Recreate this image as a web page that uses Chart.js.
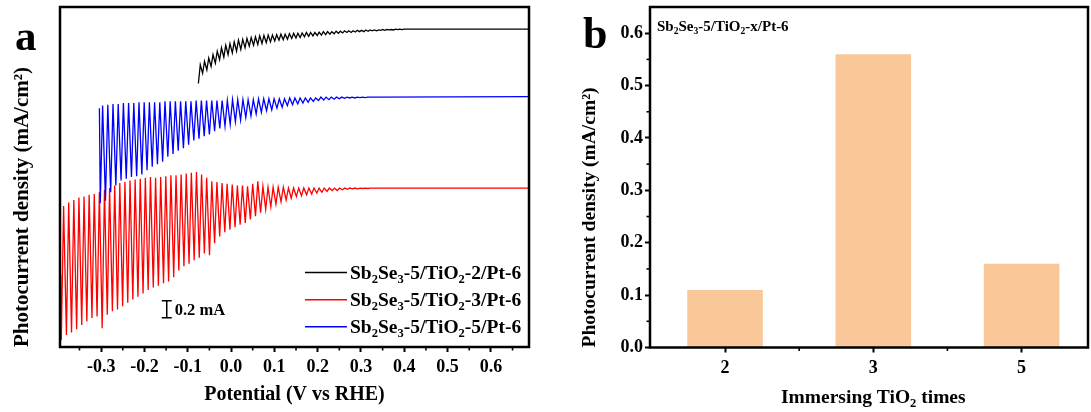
<!DOCTYPE html>
<html><head><meta charset="utf-8">
<script src="https://cdn.jsdelivr.net/npm/chart.js@4.4.1/dist/chart.umd.min.js"></script>
<style>
html,body{margin:0;padding:0;background:#fff;overflow:hidden;width:1091px;height:412px;}
#wa{position:absolute;left:0;top:0;width:545px;height:412px;}
#wb{position:absolute;left:560px;top:0;width:560px;height:412px;}
</style></head><body>
<div id="wa"><canvas id="ca"></canvas></div>
<div id="wb"><canvas id="cb"></canvas></div>
<script>
// ---------- Panel a data (chopped-light LSV, arbitrary vertical units; 0.2 unit = 0.2 mA scale bar) ----------
const seriesNames = ['Sb_2Se_3-5/TiO_2-2/Pt-6', 'Sb_2Se_3-5/TiO_2-3/Pt-6', 'Sb_2Se_3-5/TiO_2-5/Pt-6'];
const seriesColors = ['#000000', '#ff0000', '#0000ff'];
const potentialTicks = [-0.3, -0.2, -0.1, 0.0, 0.1, 0.2, 0.3, 0.4, 0.5, 0.6];
const potentialMinor = [-0.35, -0.25, -0.15, -0.05, 0.05, 0.15, 0.25, 0.35, 0.45, 0.55, 0.65];
const potentialRange = [-0.395, 0.688];

// black: TiO2-2
const blackStart = -0.0755, blackStep = 0.0098;
const blackLight = [3.32,3.36,3.40,3.44,3.48,3.52,3.55,3.57,3.59,3.61,3.62,3.63,3.64,3.65,3.66,3.665,3.67,3.67,3.675,3.68,3.68,3.685,3.69,3.69,3.695,3.70,3.70,3.70,3.705,3.71,3.71,3.71,3.715,3.715,3.72,3.72,3.72,3.725,3.725,3.73,3.73,3.73,3.73,3.735,3.735,3.735,3.74,3.74,3.74,3.74];
const blackDark  = [3.10,3.22,3.26,3.30,3.34,3.38,3.41,3.44,3.46,3.48,3.50,3.52,3.54,3.55,3.56,3.57,3.58,3.59,3.60,3.61,3.615,3.62,3.63,3.635,3.64,3.65,3.655,3.66,3.665,3.67,3.675,3.68,3.685,3.69,3.695,3.70,3.70,3.705,3.71,3.71,3.715,3.72,3.72,3.725,3.725,3.73,3.73,3.735,3.735,3.74];
const blackEnd = 3.74;

// red: TiO2-3
const redStart = -0.392, redStep = 0.0118;
const redLead = [-0.3935, 0.85];
const redLight = [1.66,1.70,1.73,1.76,1.77,1.79,1.80,1.82,1.85,1.87,1.90,1.93,1.94,1.96,1.97,1.98,1.99,2.00,1.99,2.00,2.01,2.02,2.02,2.03,2.04,2.05,2.06,2.03,1.99,1.95,1.94,1.93,1.92,1.91,1.90,1.90,1.89,1.92,1.95,1.89,1.88,1.88,1.88,1.88,1.87,1.87,1.87,1.87,1.87,1.87,1.87,1.87,1.87,1.87,1.87,1.87,1.87,1.87,1.87,1.87,1.87,1.87];
const redDark  = [0.08,0.14,0.17,0.21,0.26,0.30,0.34,0.36,0.22,0.38,0.42,0.44,0.48,0.52,0.56,0.59,0.63,0.67,0.70,0.72,0.75,0.77,0.82,0.90,0.95,0.98,1.02,1.05,1.10,1.08,1.22,1.30,1.35,1.38,1.41,1.44,1.46,1.50,1.54,1.58,1.62,1.65,1.68,1.71,1.73,1.75,1.77,1.78,1.79,1.80,1.81,1.82,1.83,1.84,1.84,1.85,1.855,1.86,1.86,1.865,1.865,1.87];
const redEnd = 1.87;

// blue: TiO2-5
const blueStart = -0.302, blueStep = 0.012;
const blueLead = [-0.304, 2.81];
const blueLight = [2.84,2.85,2.86,2.86,2.87,2.87,2.87,2.88,2.88,2.88,2.88,2.88,2.89,2.89,2.89,2.89,2.89,2.89,2.90,2.90,2.90,2.90,2.90,2.90,2.90,2.91,2.91,2.91,2.91,2.91,2.92,2.92,2.92,2.92,2.92,2.92,2.93,2.93,2.93,2.93,2.93,2.93,2.94,2.94,2.94,2.94,2.94,2.94,2.94,2.94,2.94,2.94,2.94,2.94];
const blueDark  = [1.69,1.72,1.82,1.90,1.96,1.98,2.00,2.01,2.03,2.08,2.12,2.15,2.18,2.24,2.27,2.31,2.34,2.38,2.43,2.45,2.48,2.50,2.54,2.57,2.60,2.62,2.65,2.67,2.70,2.72,2.74,2.76,2.78,2.79,2.81,2.82,2.84,2.85,2.86,2.87,2.88,2.89,2.90,2.905,2.91,2.915,2.92,2.925,2.93,2.93,2.935,2.935,2.94,2.94];
const blueEnd = 2.945;

const scaleBarAt = [-0.1485, 0.343, 0.543];

// ---------- Panel b data ----------
const barCats = ['2', '3', '5'];
const barVals = [0.11, 0.56, 0.16];
const densityTicks = [0.0, 0.1, 0.2, 0.3, 0.4, 0.5, 0.6];
const densityMinor = [0.05, 0.15, 0.25, 0.35, 0.45, 0.55];
const densityMax = 0.65;
const catRange = [-0.506, 2.448];
const catMinor = [0.5, 1.5];

// ---------- helpers ----------
const FONT = '"Liberation Serif","Times New Roman",serif';
Chart.defaults.font.family = FONT;
Chart.defaults.color = '#000';

function buildTrace(start, step, light, dark, lead, endY) {
  const pts = [];
  if (lead) pts.push({x: lead[0], y: lead[1]});
  for (let i = 0; i < light.length; i++) {
    const x0 = start + i * step;
    pts.push({x: x0, y: dark[i]});
    pts.push({x: x0 + 0.45 * step, y: light[i]});
  }
  pts.push({x: potentialRange[1], y: endY});
  return pts;
}

function richText(ctx, str, x, yBase, size, align) {
  const segs = [];
  for (let i = 0; i < str.length; i++) {
    const c = str[i];
    if ((c === '_' || c === '^') && i + 1 < str.length) { segs.push({t: str[i + 1], k: c}); i++; }
    else if (segs.length && segs[segs.length - 1].k === 'n') segs[segs.length - 1].t += c;
    else segs.push({t: c, k: 'n'});
  }
  const fN = `bold ${size}px ${FONT}`, fS = `bold ${(size * 0.64).toFixed(1)}px ${FONT}`;
  let w = 0;
  for (const s of segs) { ctx.font = s.k === 'n' ? fN : fS; s.w = ctx.measureText(s.t).width; w += s.w; }
  let cx = align === 'center' ? x - w / 2 : (align === 'right' ? x - w : x);
  ctx.textAlign = 'left'; ctx.textBaseline = 'alphabetic'; ctx.fillStyle = '#000';
  for (const s of segs) {
    ctx.font = s.k === 'n' ? fN : fS;
    const dy = s.k === '_' ? size * 0.22 : (s.k === '^' ? -size * 0.38 : 0);
    ctx.fillText(s.t, cx, yBase + dy);
    cx += s.w;
  }
}

// ---------- Panel a ----------
const panelA = {
  id: 'panelA',
  afterDraw(chart) {
    const {ctx, chartArea: a, scales: {x, y}} = chart;
    ctx.save();
    ctx.strokeStyle = '#000'; ctx.lineWidth = 2.5;
    ctx.strokeRect(a.left, a.top, a.right - a.left, a.bottom - a.top);
    ctx.lineWidth = 1.6;
    for (const v of potentialMinor) {
      const px = x.getPixelForValue(v);
      ctx.beginPath(); ctx.moveTo(px, a.bottom); ctx.lineTo(px, a.bottom + 3.5); ctx.stroke();
    }
    // scale bar
    const sx = x.getPixelForValue(scaleBarAt[0]);
    const y1 = y.getPixelForValue(scaleBarAt[1]), y2 = y.getPixelForValue(scaleBarAt[2]);
    ctx.lineWidth = 1.5;
    ctx.beginPath();
    ctx.moveTo(sx, y1); ctx.lineTo(sx, y2);
    ctx.moveTo(sx - 5, y1); ctx.lineTo(sx + 5, y1);
    ctx.moveTo(sx - 5, y2); ctx.lineTo(sx + 5, y2);
    ctx.stroke();
    richText(ctx, '0.2 mA', sx + 8, (y1 + y2) / 2 + 5.5, 16.5, 'left');
    // legend
    const rows = [272.5, 299.7, 326.7];
    chart.data.datasets.forEach((ds, i) => {
      ctx.strokeStyle = seriesColors[i]; ctx.lineWidth = 1.5;
      ctx.beginPath(); ctx.moveTo(305, rows[i]); ctx.lineTo(347, rows[i]); ctx.stroke();
      richText(ctx, seriesNames[i], 350, rows[i] + 6.5, 19.5, 'left');
    });
    ctx.font = `bold 43px ${FONT}`; ctx.fillStyle = '#000';
    ctx.textAlign = 'left'; ctx.textBaseline = 'alphabetic';
    ctx.fillText('a', 15, 50);
    ctx.restore();
  }
};

const plainName = s => s.replace(/_/g, '');
new Chart(document.getElementById('ca'), {
  type: 'line',
  data: {
    datasets: [
      {label: plainName(seriesNames[0]), data: buildTrace(blackStart, blackStep, blackLight, blackDark, null, blackEnd), borderColor: seriesColors[0], order: 3},
      {label: plainName(seriesNames[1]), data: buildTrace(redStart, redStep, redLight, redDark, redLead, redEnd), borderColor: seriesColors[1], order: 2},
      {label: plainName(seriesNames[2]), data: buildTrace(blueStart, blueStep, blueLight, blueDark, blueLead, blueEnd), borderColor: seriesColors[2], order: 1}
    ]
  },
  options: {
    animation: false, responsive: true, maintainAspectRatio: false, devicePixelRatio: 1,
    elements: {line: {borderWidth: 1.3, tension: 0, fill: false}, point: {radius: 0}},
    layout: {padding: {left: 0, top: 7, right: 16, bottom: 0}},
    plugins: {legend: {display: false}, tooltip: {enabled: false}},
    scales: {
      x: {
        type: 'linear', min: potentialRange[0], max: potentialRange[1],
        afterFit: s => { s.height = 65; },
        afterBuildTicks: s => { s.ticks = potentialTicks.map(v => ({value: v})); },
        ticks: {font: {size: 18, weight: 'bold'}, color: '#000', padding: 5, maxRotation: 0, autoSkip: false,
                callback: v => Number(v).toFixed(1)},
        grid: {display: true, drawOnChartArea: false, drawTicks: true, tickLength: 5, tickWidth: 2, tickColor: '#000'},
        border: {display: false},
        title: {display: true, text: 'Potential (V vs RHE)', color: '#000', font: {size: 20, weight: 'bold'}, padding: {top: 0, bottom: 5}}
      },
      y: {
        type: 'linear', min: 0, max: 4,
        afterFit: s => { s.width = 60; s.paddingTop = 0; s.paddingBottom = 0; },
        ticks: {display: false},
        grid: {display: false, drawTicks: false},
        border: {display: false},
        title: {display: true, text: 'Photocurrent density (mA/cm²)', align: 'start', color: '#000', font: {size: 21, weight: 'bold'}, padding: {top: 10, bottom: 0}}
      }
    }
  },
  plugins: [panelA]
});

// ---------- Panel b ----------
const panelB = {
  id: 'panelB',
  afterDraw(chart) {
    const {ctx, chartArea: a, scales: {x, y}} = chart;
    ctx.save();
    ctx.strokeStyle = '#000'; ctx.lineWidth = 2.5;
    ctx.strokeRect(a.left, a.top, a.right - a.left, a.bottom - a.top);
    ctx.lineWidth = 1.6;
    for (const v of densityMinor) {
      const py = y.getPixelForValue(v);
      ctx.beginPath(); ctx.moveTo(a.left, py); ctx.lineTo(a.left - 3.5, py); ctx.stroke();
    }
    for (const v of catMinor) {
      const px = x.getPixelForValue(v);
      ctx.beginPath(); ctx.moveTo(px, a.bottom); ctx.lineTo(px, a.bottom + 3.5); ctx.stroke();
    }
    richText(ctx, 'Sb_2Se_3-5/TiO_2-x/Pt-6', 657 - 560, 31, 15, 'left');
    richText(ctx, 'Immersing TiO_2 times', x.getPixelForValue(1), 403, 19.5, 'center');
    ctx.font = `bold 44px ${FONT}`; ctx.fillStyle = '#000';
    ctx.textAlign = 'left'; ctx.textBaseline = 'alphabetic';
    ctx.fillText('b', 583 - 560, 48);
    ctx.restore();
  }
};

new Chart(document.getElementById('cb'), {
  type: 'bar',
  data: {datasets: [{label: 'Photocurrent density', data: barVals.map((v, i) => ({x: i, y: v})), backgroundColor: 'rgb(250,200,152)', borderWidth: 0, barPercentage: 0.51, categoryPercentage: 1}]},
  options: {
    animation: false, responsive: true, maintainAspectRatio: false, devicePixelRatio: 1,
    layout: {padding: {left: 0, top: 7, right: 32, bottom: 0}},
    plugins: {legend: {display: false}, tooltip: {enabled: false}},
    scales: {
      x: {
        type: 'linear', min: catRange[0], max: catRange[1], offset: false,
        afterFit: s => { s.height = 64.5; s.paddingLeft = 0; s.paddingRight = 0; },
        afterBuildTicks: s => { s.ticks = barCats.map((c, i) => ({value: i})); },
        ticks: {font: {size: 18, weight: 'bold'}, color: '#000', padding: 5, maxRotation: 0, autoSkip: false,
                callback: v => barCats[Math.round(v)]},
        grid: {display: true, offset: false, drawOnChartArea: false, drawTicks: true, tickLength: 5, tickWidth: 2, tickColor: '#000'},
        border: {display: false}
      },
      y: {
        min: 0, max: densityMax,
        afterFit: s => { s.width = 90; s.paddingTop = 0; s.paddingBottom = 0; },
        afterBuildTicks: s => { s.ticks = densityTicks.map(v => ({value: v})); },
        ticks: {font: {size: 18, weight: 'bold'}, color: '#000', padding: 2, callback: v => Number(v).toFixed(1)},
        grid: {display: true, drawOnChartArea: false, drawTicks: true, tickLength: 5, tickWidth: 2, tickColor: '#000'},
        border: {display: false},
        title: {display: true, text: 'Photocurrent density (mA/cm²)', align: 'start', color: '#000', font: {size: 19.5, weight: 'bold'}, padding: {top: 18, bottom: 0}}
      }
    }
  },
  plugins: [panelB]
});
</script>
</body></html>
